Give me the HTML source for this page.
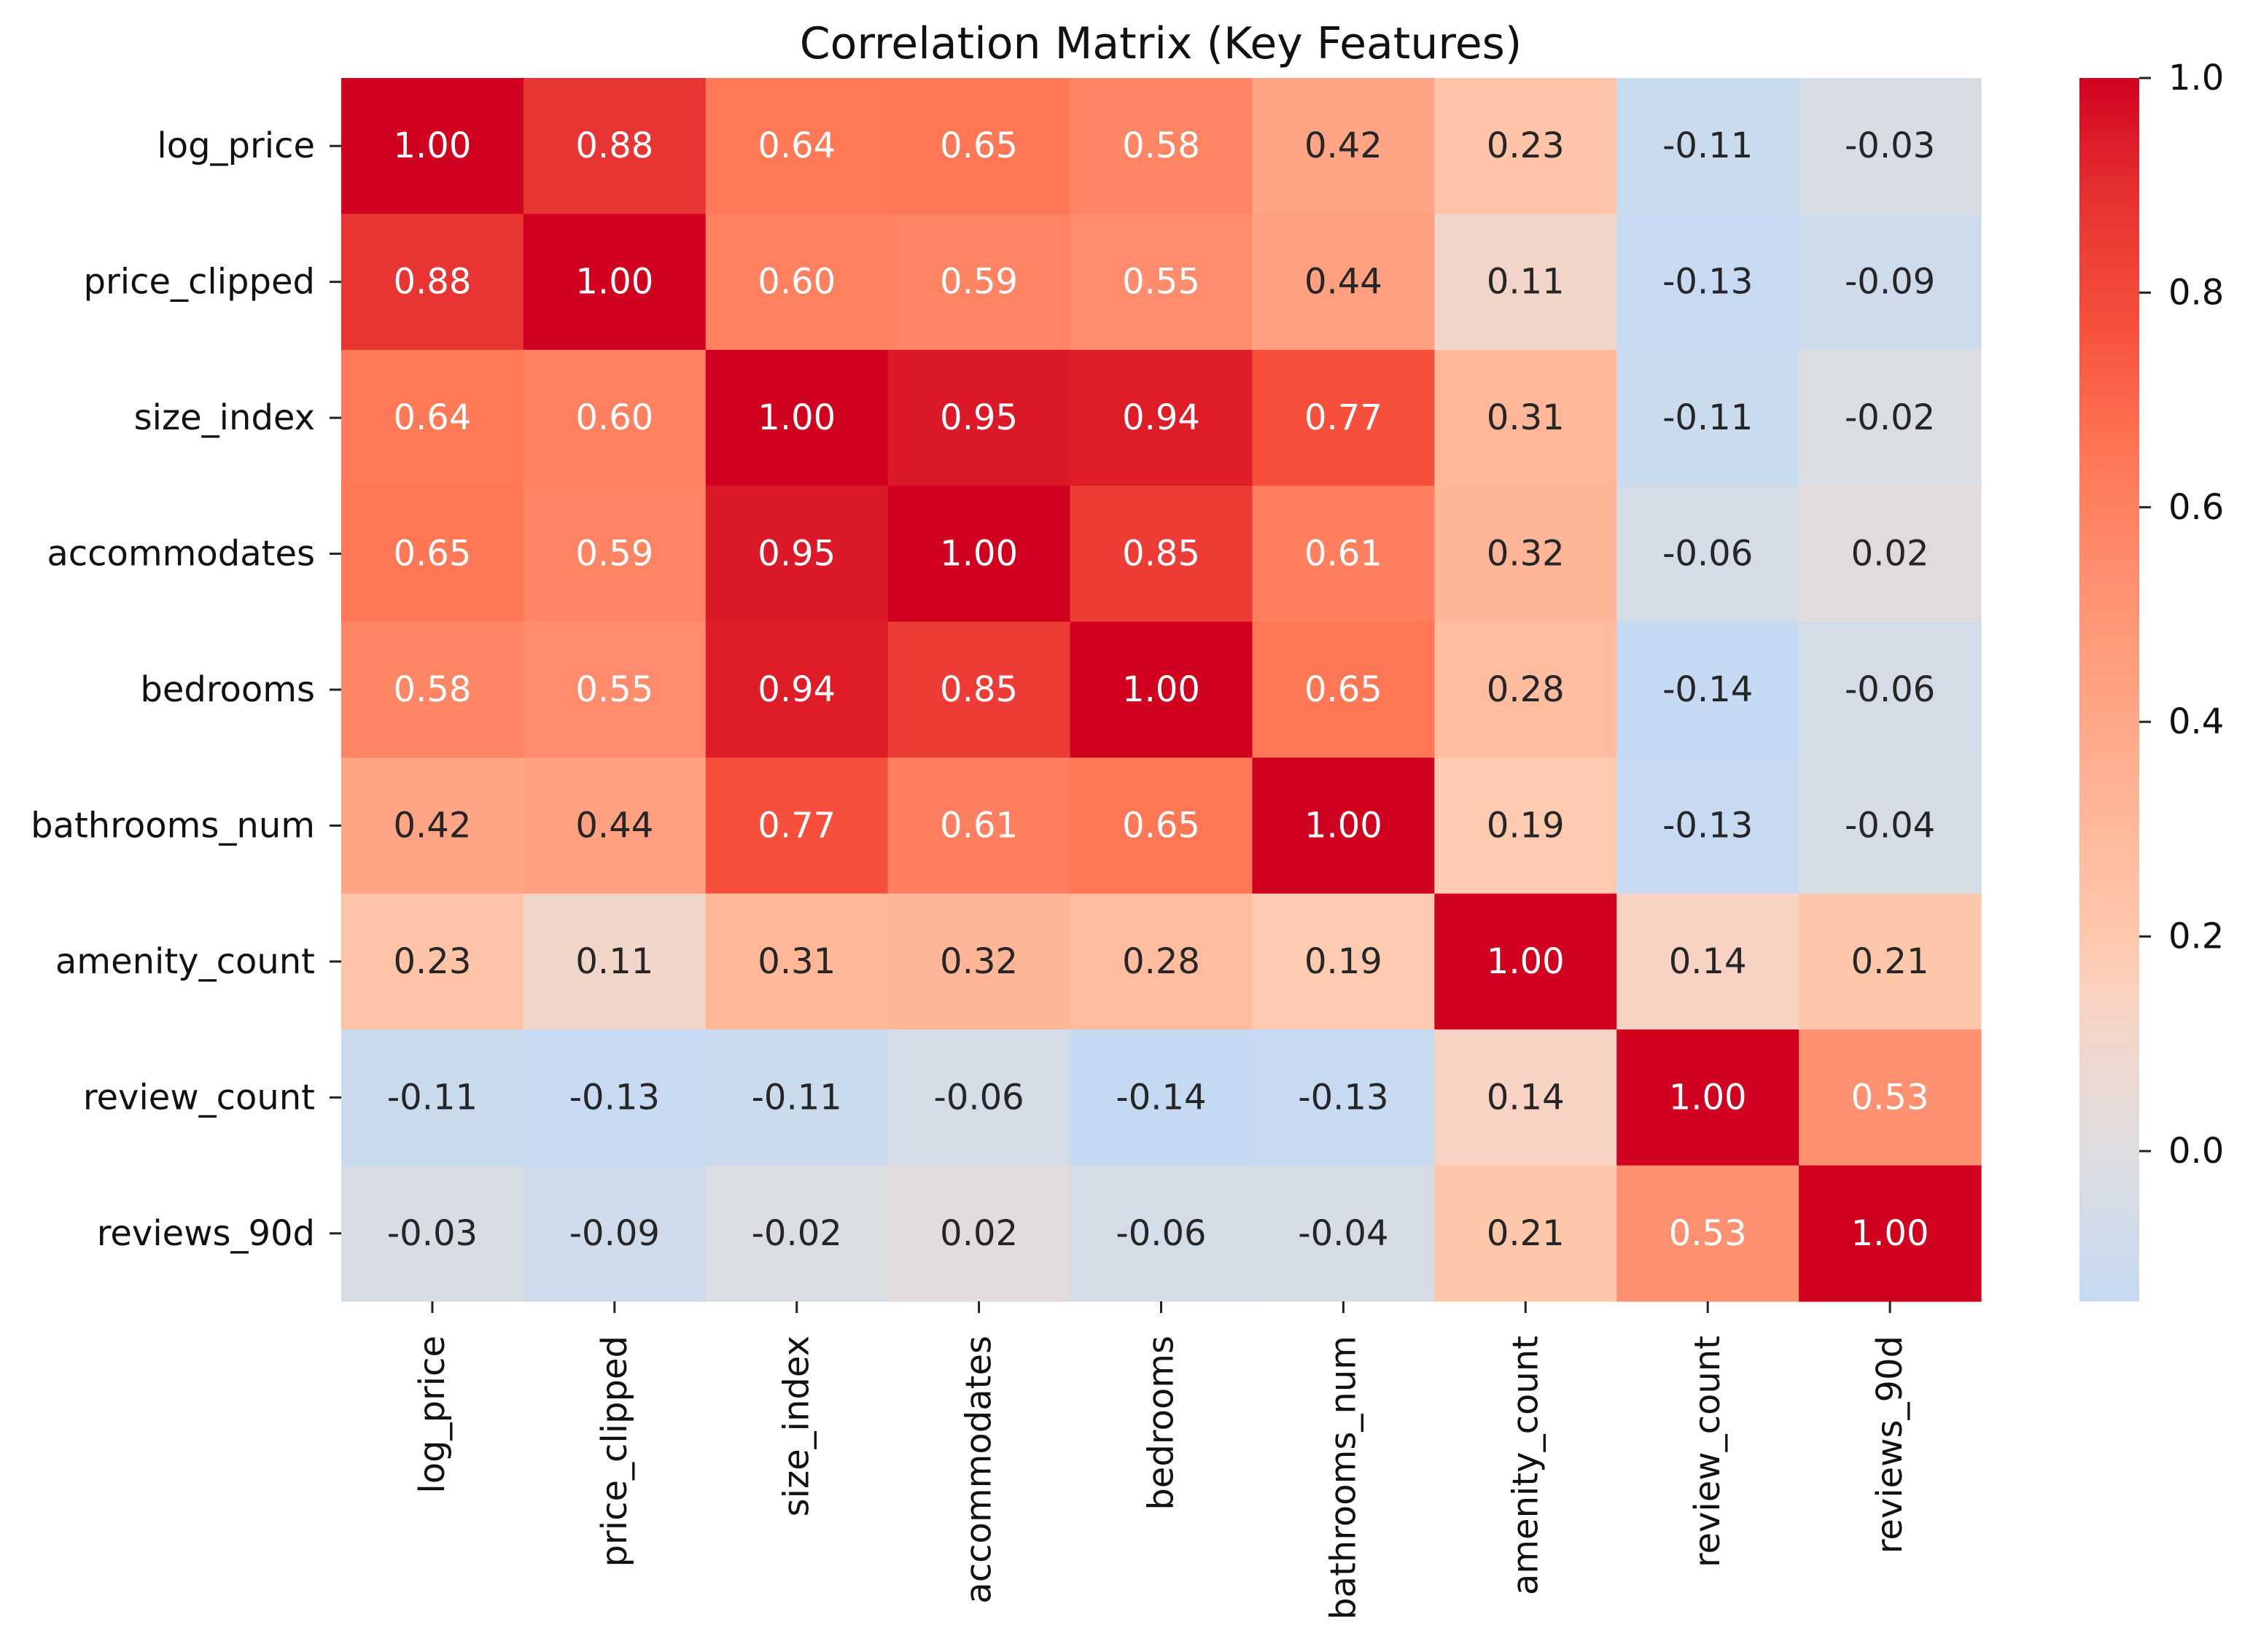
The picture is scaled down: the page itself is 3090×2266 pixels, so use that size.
<!DOCTYPE html>
<html><head><meta charset="utf-8"><style>
html,body{margin:0;padding:0;background:#fff;}
svg{display:block;}
text{font-family:"DejaVu Sans","Liberation Sans",sans-serif;}
</style></head>
<body>
<svg id="chart" width="3090" height="2266" viewBox="0 0 3090 2266" xmlns="http://www.w3.org/2000/svg">
<text x="1592" y="80" font-size="60" text-anchor="middle" fill="#111">Correlation Matrix (Key Features)</text>
<defs>
<linearGradient id="cbgrad" x1="0" y1="1" x2="0" y2="0"></linearGradient>
</defs>
<g id="cells"></g>
<g id="annots"></g>
<g id="yaxis"></g>
<g id="xaxis"></g>
<g id="cbar"></g>
</svg>
<script>
const labels = ["log_price","price_clipped","size_index","accommodates","bedrooms","bathrooms_num","amenity_count","review_count","reviews_90d"];
const row0 = [1.00,0.88,0.64,0.65,0.58,0.42,0.23,-0.11,-0.03];
const row1 = [0.88,1.00,0.60,0.59,0.55,0.44,0.11,-0.13,-0.09];
const row2 = [0.64,0.60,1.00,0.95,0.94,0.77,0.31,-0.11,-0.02];
const row3 = [0.65,0.59,0.95,1.00,0.85,0.61,0.32,-0.06,0.02];
const row4 = [0.58,0.55,0.94,0.85,1.00,0.65,0.28,-0.14,-0.06];
const row5 = [0.42,0.44,0.77,0.61,0.65,1.00,0.19,-0.13,-0.04];
const row6 = [0.23,0.11,0.31,0.32,0.28,0.19,1.00,0.14,0.21];
const row7 = [-0.11,-0.13,-0.11,-0.06,-0.14,-0.13,0.14,1.00,0.53];
const row8 = [-0.03,-0.09,-0.02,0.02,-0.06,-0.04,0.21,0.53,1.00];
const matrix = [row0,row1,row2,row3,row4,row5,row6,row7,row8];
const cbTicks = [0.0,0.2,0.4,0.6,0.8,1.0];
const vmin = -0.14, vmax = 1.0;

const NS = "http://www.w3.org/2000/svg";
const L = 468, R = 2717, T = 107, B = 1785;
const cw = (R - L) / labels.length, ch = (B - T) / labels.length;
const xPos = i => L + i * cw;
const yPos = j => T + j * ch;
const CBL = 2852, CBR = 2934;
const cbY = v => T + (vmax - v) / (vmax - vmin) * (B - T);

const stops = [
  [-0.14,[197,218,242]],[0.0,[221,221,223]],[0.14,[248,211,195]],[0.2,[255,200,172]],
  [0.3,[255,185,155]],[0.53,[255,144,112]],[0.65,[255,119,85]],[0.77,[246,80,60]],
  [0.88,[232,52,50]],[0.95,[220,25,40]],[1.0,[208,2,31]]
];
function color(v){
  if (v <= stops[0][0]) return `rgb(${stops[0][1].join(',')})`;
  for (let k = 1; k < stops.length; k++){
    if (v <= stops[k][0]){
      const [a, ca] = stops[k-1], [b, cb] = stops[k];
      const t = (v - a) / (b - a);
      const c = ca.map((x, i) => Math.round(x + (cb[i] - x) * t));
      return `rgb(${c.join(',')})`;
    }
  }
  return `rgb(${stops[stops.length-1][1].join(',')})`;
}
function mk(tag, attrs, parent){
  const e = document.createElementNS(NS, tag);
  for (const k in attrs) e.setAttribute(k, attrs[k]);
  parent.appendChild(e);
  return e;
}
const cells = document.getElementById('cells');
const annots = document.getElementById('annots');
matrix.forEach((row, j) => row.forEach((v, i) => {
  const r = mk('rect', {x: xPos(i), y: yPos(j), width: cw + 0.6, height: ch + 0.6, fill: color(v)}, cells);
  
  
  const t = mk('text', {x: xPos(i) + cw/2, y: yPos(j) + ch/2, 'font-size': 48, 'text-anchor': 'middle', 'dominant-baseline': 'central', fill: v >= 0.5 ? '#fff' : '#262626'}, annots);
  t.textContent = v.toFixed(2);
  
  
}));
const yaxis = document.getElementById('yaxis');
const xaxis = document.getElementById('xaxis');
labels.forEach((lab, k) => {
  const cy = yPos(k) + ch/2;
  const tk = mk('line', {x1: 452, x2: L, y1: cy, y2: cy, stroke: '#222', 'stroke-width': 3}, yaxis);
  
  
  const t = mk('text', {x: 432, y: cy, 'font-size': 48, 'text-anchor': 'end', 'dominant-baseline': 'central', fill: '#111'}, yaxis);
  t.textContent = lab;
  
  
  const cx = xPos(k) + cw/2;
  const tx = mk('line', {x1: cx, x2: cx, y1: B, y2: B + 16, stroke: '#222', 'stroke-width': 3}, xaxis);
  
  
  const xt = mk('text', {x: 0, y: 0, 'font-size': 48, 'text-anchor': 'end', 'dominant-baseline': 'central', fill: '#111', transform: `translate(${cx},1832) rotate(-90)`}, xaxis);
  xt.textContent = lab;
  
  
});
const grad = document.getElementById('cbgrad');
for (let k = 0; k <= 40; k++){
  const v = vmin + (vmax - vmin) * k / 40;
  mk('stop', {offset: (k/40*100) + '%', 'stop-color': color(v)}, grad);
}
const cbar = document.getElementById('cbar');
const cr = mk('rect', {x: CBL, y: T, width: CBR - CBL, height: B - T, fill: 'url(#cbgrad)'}, cbar);


cbTicks.forEach(v => {
  const y = cbY(v);
  const l = mk('line', {x1: CBR, x2: CBR + 16, y1: y, y2: y, stroke: '#222', 'stroke-width': 3}, cbar);
  
  
  const t = mk('text', {x: CBR + 40, y: y, 'font-size': 48, 'dominant-baseline': 'central', fill: '#111'}, cbar);
  t.textContent = v.toFixed(1);
  
  
});
</script>
</body></html>
